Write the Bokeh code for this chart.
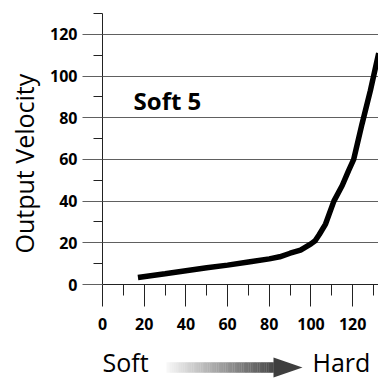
from bokeh.plotting import figure
from bokeh.models import FixedTicker, Label, Range1d, Title
from bokeh.layouts import column
from bokeh.embed import file_html
from bokeh.resources import INLINE

# ---- data ----
velocity_in = [17, 30, 40, 50, 60, 70, 80, 85, 90, 95, 100, 102, 104, 107, 111, 115, 118, 120.5, 124.5, 128.5, 132.5]
velocity_out = [3.4, 5.2, 6.6, 8.0, 9.3, 10.8, 12.3, 13.3, 15.0, 16.5, 19.5, 21.0, 24.0, 29.0, 40.0, 47.5, 54.5, 60.0, 77.0, 93.0, 111.0]
major_ticks = [0, 20, 40, 60, 80, 100, 120]
minor_ticks = [10, 30, 50, 70, 90, 110, 130]
curve_name = "Soft 5"
y_title = "Output Velocity"
left_word = "Soft"
right_word = "Hard"

FONT = "Open Sans"
W = 378
LEFT = 102

p = figure(width=W, height=340, output_backend="svg", toolbar_location=None,
           x_range=Range1d(0, 132.4), y_range=Range1d(0, 130),
           min_border_left=LEFT, min_border_right=0, min_border_top=13, min_border_bottom=56)
p.outline_line_color = None
p.background_fill_color = "white"
p.border_fill_color = "white"

p.xgrid.visible = False
p.ygrid.ticker = FixedTicker(ticks=major_ticks)
p.ygrid.grid_line_color = "#606060"
p.ygrid.grid_line_width = 1

for ax in (p.xaxis[0], p.yaxis[0]):
    ax.ticker = FixedTicker(ticks=major_ticks, minor_ticks=minor_ticks)
    ax.major_label_text_font = FONT
    ax.major_label_text_font_style = "bold"
    ax.major_label_text_font_size = "16px"
    ax.major_label_text_color = "black"
    ax.axis_line_color = "#222222"
    ax.major_tick_in = 0
    ax.minor_tick_in = 0

p.xaxis.major_tick_out = 22
p.xaxis.minor_tick_out = 11
p.xaxis.major_tick_line_color = "#222222"
p.xaxis.minor_tick_line_color = "#222222"
p.xaxis.major_label_standoff = 11

p.yaxis.major_tick_out = 20
p.yaxis.minor_tick_out = 9
p.yaxis.major_tick_line_color = "#606060"
p.yaxis.minor_tick_line_color = "#222222"
p.yaxis.major_label_standoff = 5

# y title as a side-panel title (vertical, reads bottom to top)
p.add_layout(Title(text=y_title, align="left", vertical_align="top", offset=31, standoff=9,
                   text_font=FONT, text_font_style="normal", text_font_size="25px",
                   text_color="black"), "left")

p.line(velocity_in, velocity_out, line_color="black", line_width=5.5)

p.add_layout(Label(x=14.9, y=88.2, text=curve_name, text_font=FONT, text_font_style="bold",
                   text_font_size="24px", text_color="black", text_baseline="middle"))

# ---- bottom row: Soft -> Hard (frame aligned with the plot above; data = pixels) ----
p2 = figure(width=W, height=39, output_backend="svg", toolbar_location=None,
            x_range=Range1d(LEFT, W), y_range=Range1d(0, 39),
            min_border_left=LEFT, min_border_right=0, min_border_top=0, min_border_bottom=0)
p2.axis.visible = False
p2.grid.visible = False
p2.outline_line_color = None
p2.background_fill_color = "white"
p2.border_fill_color = "white"

x0, x1, tip = 166.0, 273.0, 302.0
yc, half_shaft, half_head = 12.0, 5.3, 10.0
n = 60
lefts, rights, cols = [], [], []
for i in range(n):
    a = x0 + (x1 - x0) * i / n
    b = x0 + (x1 - x0) * (i + 1) / n + 0.3
    t = (i + 0.5) / n
    g = int(round(248 + (72 - 248) * t))
    lefts.append(a)
    rights.append(b)
    cols.append("#%02x%02x%02x" % (g, g, g))
p2.quad(left=lefts, right=rights, bottom=yc - half_shaft, top=yc + half_shaft,
        fill_color=cols, line_color=None)
p2.patch([x1, tip, x1], [yc - half_head, yc, yc + half_head], fill_color="#3e3e3e", line_color=None)

p2.add_layout(Label(x=102, y=17.5, text=left_word, text_font=FONT, text_font_size="25px",
                    text_color="black", text_baseline="middle"))
p2.add_layout(Label(x=312, y=17.5, text=right_word, text_font=FONT, text_font_size="25px",
                    text_color="black", text_baseline="middle"))

layout = column(p, p2, spacing=0)
open("out.html", "w").write(file_html(layout, INLINE))
